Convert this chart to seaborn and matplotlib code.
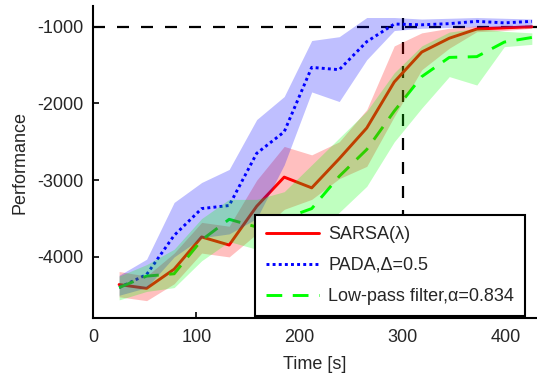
import numpy as np
import pandas as pd
import matplotlib
matplotlib.use("Agg")
import matplotlib.pyplot as plt
import seaborn as sns

# Time points (s)
time_s = np.linspace(25, 425, 16)

# SARSA(lambda): mean and band edges
sarsa_mean = [-4360, -4410, -4160, -3740, -3845, -3340, -2960, -3100, -2720, -2320,
              -1720, -1330, -1150, -1030, -1015, -1000]
sarsa_hi = [-4190, -4250, -3950, -3550, -3600, -3000, -2560, -2670, -2500, -2080,
            -1250, -1080, -1020, -990, -985, -985]
sarsa_lo = [-4520, -4570, -4350, -3950, -4000, -3700, -3380, -3250, -2980, -2820,
            -2170, -1560, -1280, -1065, -1050, -1020]

# PADA, Delta=0.5
pada_mean = [-4400, -4230, -3720, -3370, -3330, -2650, -2370, -1530, -1560, -1195,
             -965, -975, -960, -930, -950, -930]
pada_hi = [-4240, -4030, -3290, -3030, -2860, -2210, -1910, -1180, -1130, -880,
           -880, -900, -890, -880, -890, -900]
pada_lo = [-4500, -4400, -4000, -3750, -3700, -3500, -2800, -1850, -1975, -1430,
           -1050, -1020, -1010, -1000, -1005, -1000]

# Low-pass filter, alpha=0.834
lowpass_mean = [-4400, -4250, -4220, -3780, -3510, -3610, -3500, -3370, -2950, -2600,
                -2100, -1650, -1400, -1390, -1200, -1140]
lowpass_hi = [-4250, -4100, -3900, -3500, -3250, -3250, -3150, -2800, -2450, -2100,
              -1600, -1250, -1070, -1020, -1060, -1080]
lowpass_lo = [-4560, -4450, -4400, -4050, -3800, -3900, -3800, -3750, -3420, -3080,
              -2500, -2060, -1650, -1760, -1260, -1230]

labels = ["SARSA(λ)", "PADA,Δ=0.5", "Low-pass filter,α=0.834"]
colors = ["#ff0000", "#0000ff", "#00ff00"]
styles = ["-", (0, (1, 1.1)), (0, (5.4, 3.6))]

target_perf = -1000
target_time = 300

sns.set_style("ticks")
plt.rcParams["font.family"] = ["Liberation Sans", "DejaVu Sans"]
plt.rcParams["axes.unicode_minus"] = False

fig = plt.figure(figsize=(5.37, 3.73), dpi=100)
ax = fig.add_axes([93.3 / 537, (373 - 318.3) / 373, (537 - 93.3) / 537, (318.3 - 6) / 373])

series = [
    (sarsa_mean, sarsa_lo, sarsa_hi),
    (pada_mean, pada_lo, pada_hi),
    (lowpass_mean, lowpass_lo, lowpass_hi),
]

# reference lines
ax.axhline(target_perf, color="black", lw=1.6, linestyle=(0, (5.4, 5.4)), zorder=1)
ax.axvline(target_time, color="black", lw=1.6, linestyle=(0, (5.4, 5.4)), zorder=1)

handles = []
for (mean, lo, hi), lab, col, ls in zip(series, labels, colors, styles):
    df = pd.DataFrame({"time": time_s, "perf": mean})
    sns.lineplot(data=df, x="time", y="perf", ax=ax, color=col, lw=2.1,
                 linestyle=ls, zorder=2, legend=False)
    handles.append(ax.lines[-1])
    ax.fill_between(time_s, lo, hi, color=col, alpha=0.25, lw=0, zorder=3)

ax.set_xlim(0, 430)
ax.set_ylim(-4800, -730)
ax.set_xticks([0, 100, 200, 300, 400])
ax.set_yticks([-4000, -3000, -2000, -1000])
ax.set_xlabel("Time [s]", fontsize=13, labelpad=7)
ax.set_ylabel("Performance", fontsize=13, labelpad=6)
ax.tick_params(direction="in", length=4.5, width=1.2, labelsize=13, color="black")
ax.tick_params(axis="x", pad=8)
ax.tick_params(axis="y", pad=7)
for s in ["top", "right"]:
    ax.spines[s].set_visible(False)
for s in ["left", "bottom"]:
    ax.spines[s].set_linewidth(1.5)
    ax.spines[s].set_color("black")

leg = ax.legend(handles, labels, loc="upper left",
                bbox_to_anchor=(255 / 537, 1 - 215 / 373), bbox_transform=fig.transFigure,
                borderaxespad=0, fontsize=13, handlelength=2.95, handletextpad=0.5,
                labelspacing=0.78, borderpad=0.6, fancybox=False, framealpha=1,
                edgecolor="black")
leg.get_frame().set_linewidth(1.5)
leg.set_zorder(10)

fig.savefig("out.png", dpi=100)
